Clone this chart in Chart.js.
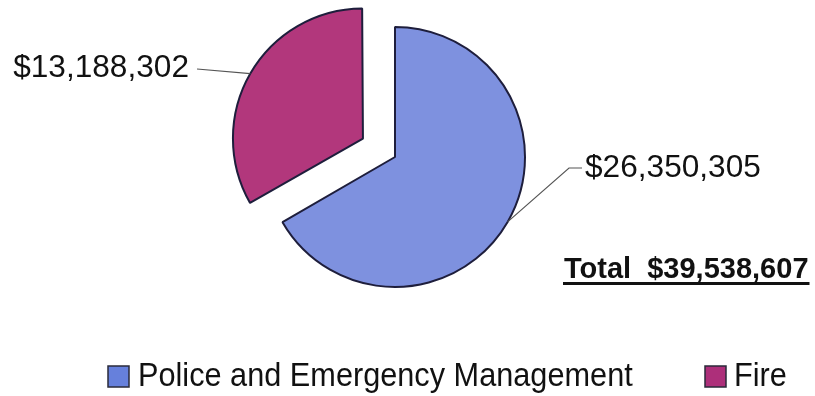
<!DOCTYPE html>
<html>
<head>
<meta charset="utf-8">
<script src="https://cdn.jsdelivr.net/npm/chart.js@4.4.1/dist/chart.umd.min.js"></script>
<style>
  html, body { margin: 0; padding: 0; background: #ffffff; }
  canvas { display: block; }
</style>
</head>
<body>
<canvas id="budgetPie" width="815" height="396"></canvas>
<script>
// Budget split between the two departments
const categories = ['Police and Emergency Management', 'Fire'];
const budget = [26350305, 13188302];
const totalCaption = 'Total';
const sliceColors = ['#7e91df', '#b2377c'];
const legendColors = ['#6680dc', '#ad2f7a'];
const explodePx = [0, 37];          // how far each slice is pulled out

const money = v => '$' + v.toLocaleString('en-US');
const total = budget.reduce((a, b) => a + b, 0);

const FONT = '"Liberation Sans", Arial, Helvetica, sans-serif';

function drawText(ctx, text, x, y, align, font, sx) {
  ctx.save();
  ctx.font = font;
  ctx.textBaseline = 'middle';
  ctx.textAlign = align;
  ctx.translate(x, y);
  ctx.scale(sx, 1);
  ctx.fillText(text, 0, 0);
  ctx.restore();
}

// Keeps an exploded slice at the same radius as the others
// (the arc element grows its radius a little when offset is used).
const keepRadius = {
  id: 'keepRadius',
  afterDatasetsUpdate(chart) {
    const meta = chart.getDatasetMeta(0);
    meta.data.forEach((arc, i) => {
      const off = (chart.data.datasets[0].offset[i] || 0) / 4;
      const circ = arc.endAngle - arc.startAngle;
      const fix = 1 - Math.sin(Math.min(Math.PI, circ));
      arc.outerRadius -= off * fix;
    });
  }
};

// Value call-outs, total and legend
const annotate = {
  id: 'annotate',
  afterDraw(chart) {
    const ctx = chart.ctx;
    const meta = chart.getDatasetMeta(0);
    const R = meta.controller.outerRadius;
    // leader end points and text anchors for each slice
    const callouts = [
      { pts: [[569, 168], [582, 168]], tx: 585, ty: 168, align: 'left' },
      { pts: [[197, 69]], tx: 189, ty: 68, align: 'right' }
    ];
    meta.data.forEach((arc, i) => {
      const mid = (arc.startAngle + arc.endAngle) / 2;
      const off = (chart.data.datasets[0].offset[i] || 0) / 4;
      const cx = arc.x + Math.cos(mid) * off;
      const cy = arc.y + Math.sin(mid) * off;
      const ex = cx + Math.cos(mid) * R;
      const ey = cy + Math.sin(mid) * R;
      const c = callouts[i];
      ctx.save();
      ctx.strokeStyle = '#555555';
      ctx.lineWidth = 1.2;
      ctx.beginPath();
      ctx.moveTo(ex, ey);
      c.pts.forEach(p => ctx.lineTo(p[0], p[1]));
      ctx.stroke();
      ctx.fillStyle = '#111111';
      drawText(ctx, money(budget[i]), c.tx, c.ty, c.align, '31px ' + FONT, 1.02);
      ctx.restore();
    });

    // underlined total
    ctx.save();
    ctx.fillStyle = '#111111';
    ctx.font = 'bold 29px ' + FONT;
    ctx.textAlign = 'left';
    ctx.textBaseline = 'alphabetic';
    const totalText = totalCaption + '  ' + money(total);
    ctx.fillText(totalText, 564, 278);
    const w = ctx.measureText(totalText).width;
    ctx.fillRect(563, 282, w + 2, 3);
    ctx.restore();

    // legend
    const items = [
      { bx: 108, tx: 138 },
      { bx: 705, tx: 734 }
    ];
    categories.forEach((name, i) => {
      const it = items[i];
      ctx.save();
      ctx.fillStyle = legendColors[i];
      ctx.strokeStyle = '#2a2a3a';
      ctx.lineWidth = 1.5;
      ctx.fillRect(it.bx, 366, 21, 21);
      ctx.strokeRect(it.bx, 366, 21, 21);
      ctx.fillStyle = '#111111';
      drawText(ctx, name, it.tx, 377, 'left', '33px ' + FONT, 0.93);
      ctx.restore();
    });
  }
};

new Chart(document.getElementById('budgetPie'), {
  type: 'pie',
  data: {
    labels: categories,
    datasets: [{
      data: budget,
      backgroundColor: sliceColors,
      borderColor: '#1e1e3c',
      borderWidth: 2,
      offset: explodePx.map(v => v * 4),
      hoverOffset: 0,
      radius: 130
    }]
  },
  options: {
    responsive: false,
    animation: false,
    events: [],
    layout: { padding: { left: 245, right: 270, top: 7, bottom: 89 } },
    plugins: {
      legend: { display: false },
      tooltip: { enabled: false }
    }
  },
  plugins: [keepRadius, annotate]
});
</script>
</body>
</html>
